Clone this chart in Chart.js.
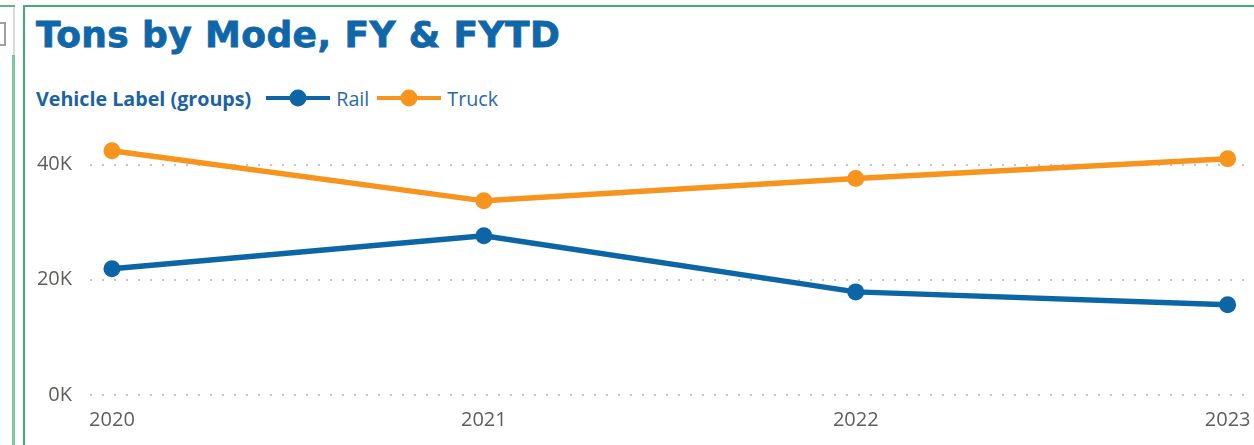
<!DOCTYPE html>
<html>
<head>
<meta charset="utf-8">
<script src="https://cdn.jsdelivr.net/npm/chart.js@4.4.1/dist/chart.umd.min.js"></script>
<style>
  html, body { margin: 0; padding: 0; background: #fff; }
  #wrap { position: relative; width: 1254px; height: 445px; overflow: hidden; font-family: "Open Sans", sans-serif; }
  #chart { position: absolute; left: 0; top: 0; }
  .line { position: absolute; }
  #title { position: absolute; left: 36px; top: 17px; font: bold 36px "DejaVu Sans", sans-serif; color: #0F67A9; white-space: nowrap; line-height: 1; letter-spacing: 0.4px; -webkit-text-stroke: 0.8px #0F67A9; }
  #legend { position: absolute; left: 36px; top: 86px; height: 24px; display: flex; align-items: center; white-space: nowrap; }
  #legend .head { font-weight: 700; font-size: 19.7px; color: #1B63A3; margin-right: 15px; }
  #legend .item { display: flex; align-items: center; margin-right: 8px; }
  #legend .item span { font-size: 19.7px; color: #2A68A6; margin-left: 6px; }
</style>
</head>
<body>
<div id="wrap">
  <!-- neighbouring visual edge -->
  <div class="line" style="left:0;top:5px;width:15px;height:2px;background:#5DB784"></div>
  <div class="line" style="left:13px;top:7px;width:2px;height:48px;background:#DADADA"></div>
  <div class="line" style="left:12px;top:55px;width:3px;height:390px;background:#7CC79C"></div>
  <div class="line" style="left:-6px;top:22px;width:10px;height:20px;border:2px solid #A0A0A0;border-left:none"></div>
  <!-- this visual's border -->
  <div class="line" style="left:23px;top:5px;width:1231px;height:2px;background:#45AC72"></div>
  <div class="line" style="left:23px;top:5px;width:2px;height:440px;background:#45AC72"></div>

  <div id="title">Tons by Mode, FY &amp; FYTD</div>
  <div id="legend"><div class="head">Vehicle Label (groups)</div></div>
  <canvas id="chart" width="1254" height="445"></canvas>
</div>
<script>
// data
const years = ['2020', '2021', '2022', '2023'];
const rail = [21900, 27650, 17900, 15650];
const truck = [42400, 33700, 37600, 41000];
const yTicks = [0, 20000, 40000];
const seriesNames = ['Rail', 'Truck'];
const seriesColors = ['#0C66A6', '#F7941E'];

const toPoints = vals => vals.map((v, i) => ({x: Number(years[i]), y: v}));

const datasets = [rail, truck].map((vals, i) => ({
  label: seriesNames[i],
  data: toPoints(vals),
  borderColor: seriesColors[i],
  backgroundColor: seriesColors[i],
  borderWidth: 5.5,
  pointRadius: 8.5,
  pointHoverRadius: 8.5,
  pointBorderWidth: 0,
  tension: 0
}));

// legend
const legend = document.getElementById('legend');
datasets.forEach(ds => {
  const it = document.createElement('div');
  it.className = 'item';
  it.innerHTML = `<svg width="64" height="20"><line x1="0" y1="10" x2="64" y2="10" stroke="${ds.borderColor}" stroke-width="4"/>
    <circle cx="32" cy="10" r="8.5" fill="${ds.borderColor}"/></svg><span>${ds.label}</span>`;
  legend.appendChild(it);
});

const tickFont = {family: '"Open Sans", sans-serif', size: 20};

new Chart(document.getElementById('chart'), {
  type: 'line',
  data: { datasets },
  options: {
    responsive: false,
    animation: false,
    devicePixelRatio: 1,
    layout: { padding: {left: 25, right: 4, top: 130, bottom: 0} },
    plugins: { legend: {display: false}, tooltip: {enabled: false} },
    scales: {
      x: {
        type: 'linear',
        min: 2019.941,
        max: 2023.048,
        afterBuildTicks: s => { s.ticks = years.map(y => ({value: Number(y)})); },
        afterFit: s => { s.height = 50; s.paddingLeft = 0; s.paddingRight = 0; },
        grid: {display: false, drawTicks: false},
        border: {display: false},
        ticks: {
          color: '#605E5C', font: tickFont, padding: 13, maxRotation: 0, autoSkip: false,
          callback: v => String(v)
        }
      },
      y: {
        min: 0,
        max: 46000,
        afterBuildTicks: s => { s.ticks = yTicks.map(v => ({value: v})); },
        afterFit: s => { s.width = 65; },
        grid: {color: '#C8C6C4', lineWidth: 2, drawTicks: false},
        border: {display: false, dash: [2, 10]},
        ticks: {
          color: '#605E5C', font: tickFont, padding: 18,
          callback: v => (v / 1000) + 'K'
        }
      }
    }
  }
});
</script>
</body>
</html>
